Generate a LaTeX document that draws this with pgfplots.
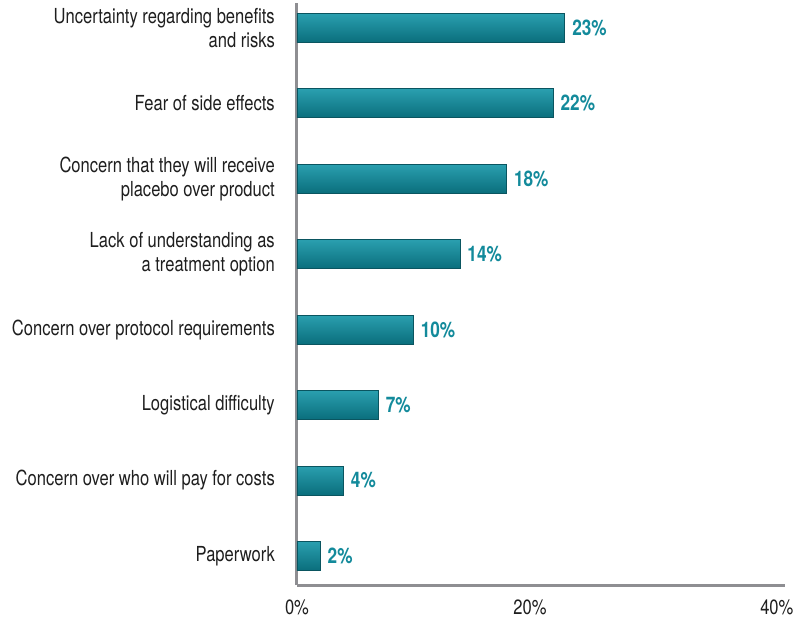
\documentclass[border=0pt]{standalone}
\usepackage{pgfplots}
\pgfplotsset{compat=1.18}
\usepackage{fontspec}
\setmainfont{TeX Gyre Heros}[FakeStretch=0.8]

\definecolor{barmid}{HTML}{0A8393}
\definecolor{bartop}{HTML}{2A9FAF}
\definecolor{barbot}{HTML}{0A6E7C}
\definecolor{baredge}{HTML}{0A5560}
\definecolor{valtxt}{HTML}{138A9B}
\definecolor{axisgray}{HTML}{8E8E92}
\definecolor{labtxt}{HTML}{1E1E1E}

\pgfplotsset{
  % each bar is its own plot so that it gets its own shading
  tealbar/.style={xbar, bar width=29pt, bar shift=0pt, forget plot,
    draw=baredge, line width=0.8pt,
    top color=bartop, middle color=barmid, bottom color=barbot,
    nodes near coords={\pgfmathprintnumber{\pgfplotspointmeta}\%},
    every node near coord/.append style={anchor=west, inner sep=0pt,
      xshift=7pt, text=valtxt, font=\fontsize{21.5}{25}\selectfont\bfseries}},
}

\begin{document}
\begin{tikzpicture}[x=1pt,y=1pt]
\begin{axis}[
  at={(0,0)}, anchor=south west,
  scale only axis,
  width=488pt, height=582pt,
  xmin=0, xmax=41.9,
  ymin=-0.385, ymax=7.33,
  axis lines=left,
  axis line style={-, draw=axisgray, line width=3pt},
  major tick length=0pt,
  xtick={0,20,41.2},
  xticklabels={0\%,20\%,40\%},
  ytick={0,1,2,3,4,5,6,7},
  yticklabels={
    Paperwork,
    Concern over who will pay for costs,
    Logistical difficulty,
    Concern over protocol requirements,
    Lack of understanding as\\a treatment option,
    Concern that they will receive\\placebo over product,
    Fear of side effects,
    Uncertainty regarding benefits\\and risks},
  yticklabel style={align=right, inner sep=0pt, xshift=-22pt,
    font=\fontsize{20.7}{24}\selectfont, text=labtxt},
  xticklabel style={inner sep=0pt, yshift=-15pt,
    font=\fontsize{20.7}{24}\selectfont, text=labtxt},
  /pgf/number format/assume math mode=true,
  clip=false,
]
\addplot[tealbar] coordinates {(2,0)};
\addplot[tealbar] coordinates {(4,1)};
\addplot[tealbar] coordinates {(7,2)};
\addplot[tealbar] coordinates {(10,3)};
\addplot[tealbar] coordinates {(14,4)};
\addplot[tealbar] coordinates {(18,5)};
\addplot[tealbar] coordinates {(22,6)};
\addplot[tealbar] coordinates {(23,7)};
\end{axis}
\pgfresetboundingbox
\useasboundingbox (-297pt,-42pt) rectangle (505pt,585pt);
\end{tikzpicture}
\end{document}
